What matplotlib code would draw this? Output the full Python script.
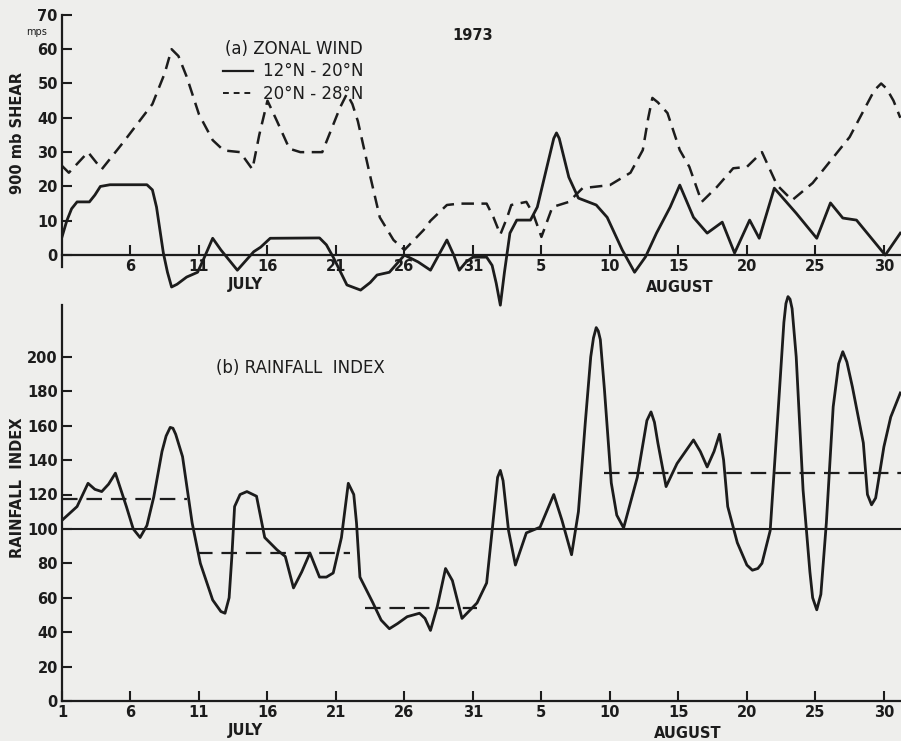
import matplotlib.pyplot as plt
from matplotlib.lines import Line2D

# (a) zonal wind shear, mps, against day number (Aug 5 = day 36)
shear_days_north = [1, 1.5, 2.9, 3.9, 5.5, 7.6, 8.5, 9.0, 9.5, 10.1, 11, 12, 12.8, 14, 14.9, 15.4,
                    16, 16.7, 17.6, 18.4, 20, 20.6, 21.3, 21.8, 22.2, 22.6, 23.5, 24.2, 25.2, 26,
                    27.4, 27.9, 29.1, 30, 32, 32.5, 33, 33.5, 33.8, 34.9, 35.4, 36, 36.8, 38, 39,
                    41, 42.5, 43.4, 43.8, 44.1, 44.5, 45.2, 46.1, 46.8, 47.7, 48.8, 50, 51, 52.1,
                    53.2, 54.3, 55.8, 58.5, 60.3, 60.8, 61.2, 61.7, 62.2]
shear_north = [26, 24, 30, 25, 33, 44, 53, 60, 58, 52, 41, 33.5, 30.5, 30, 25, 35,
               45, 39, 31, 30, 30, 36, 43, 47, 44, 39, 23, 11, 4.4, 1.5,
               7.3, 10, 14.6, 15, 15, 11, 6, 11, 14.6, 15.5, 12, 5.3, 14, 15.5, 19.5,
               20.4, 24, 30.6, 40, 45.8, 44.5, 41.4, 30.6, 25.7, 15.5, 19.8, 25.3, 25.7, 30,
               20.4, 16, 21, 34.4, 48, 50, 48.5, 45, 40]

shear_days_south = [1, 1.35, 1.7, 2.1, 3.0, 3.4, 3.8, 4.5, 7.2, 7.6, 7.9, 8.4, 8.7, 9.0, 9.4, 10.1,
                    10.9, 11.4, 12.0, 12.6, 13.8, 15.0, 15.5, 16.2, 19.8, 20.3, 20.8, 21.8, 22.8,
                    23.5, 24.0, 24.9, 26.0, 27.0, 27.9, 28.5, 29.1, 29.6, 30.0, 30.5, 31.0, 32.0,
                    32.4, 32.7, 33.0, 33.3, 33.7, 34.2, 35.2, 35.7, 36.4, 36.9, 37.1, 37.3, 38.0,
                    38.7, 40.0, 40.8, 41.9, 42.8, 43.6, 44.4, 45.4, 46.1, 47.1, 48.1, 49.2, 50.1,
                    51.2, 51.9, 53.0, 54.6, 56.1, 57.1, 58.0, 59.0, 61.1, 62.2]
shear_south = [5.3, 10, 13.5, 15.5, 15.5, 17.5, 20, 20.5, 20.5, 19, 14, 0.6, -5, -9.3, -8.5, -6.4,
               -5, -0.6, 4.9, 1.5, -4.4, 1, 2.3, 4.9, 5, 3, -0.6, -8.7, -10.2,
               -8, -5.8, -5, 0, -2, -4.4, 0, 4.4, 0, -4.4, -2, -0.6, -0.6,
               -3, -8.2, -14.6, -5, 6.4, 10.2, 10.2, 14, 25.7, 34, 35.6, 34, 22.7,
               16.6, 14.6, 11, 1.5, -5, -0.5, 6.4, 14, 20.4, 11, 6.4, 9.6, 0.6,
               10.2, 4.9, 19.5, 12.2, 4.9, 15.2, 10.8, 10.2, 0, 6.4]

# (b) rainfall index
rain_days = [1, 2.1, 2.9, 3.4, 3.9, 4.4, 4.9, 5.7, 6.2, 6.7, 7.2, 7.7, 8.3, 8.6, 8.9, 9.1, 9.3,
             9.8, 10.5, 11.1, 12.0, 12.6, 12.9, 13.2, 13.4, 13.6, 14.0, 14.5, 15.2, 15.8, 16.7,
             17.3, 17.9, 18.5, 19.1, 19.8, 20.3, 20.8, 21.4, 21.9, 22.3, 22.5, 22.75, 23.7, 24.3,
             24.9, 25.5, 26.2, 27.1, 27.5, 27.9, 28.4, 29.0, 29.5, 30.2, 31.3, 32.0, 32.4, 32.8,
             33.0, 33.2, 33.6, 34.1, 34.9, 35.9, 36.9, 37.5, 38.2, 38.7, 39.2, 39.6, 39.8, 40.0,
             40.15, 40.3, 40.6, 41.1, 41.5, 42.0, 43.0, 43.7, 44.0, 44.25, 44.5, 45.1, 45.9, 47.1,
             47.6, 48.1, 48.6, 49.0, 49.3, 49.6, 50.3, 51.0, 51.4, 51.8, 52.1, 52.7, 53.3, 53.7,
             53.85, 54.0, 54.15, 54.3, 54.6, 55.1, 55.6, 55.8, 56.1, 56.4, 56.8, 57.3, 57.7, 58.0,
             58.3, 58.7, 59.5, 59.8, 60.1, 60.4, 61.0, 61.5, 62.2]
rain_index = [105, 113, 126.5, 123, 121.7, 126, 132.4, 113, 100, 95, 102, 118.6, 145, 154, 159, 158.5, 155,
              142, 103.5, 80, 58.7, 52, 51, 60, 84, 113, 120, 121.7, 119, 95, 87.8,
              84, 65.7, 75, 86, 72, 72, 74.4, 95, 126.5, 120, 103.5, 72, 57, 47,
              42, 45, 49, 51, 48, 41, 55, 77, 70, 48, 57, 68.6, 99, 130,
              134, 128, 99, 79, 97.7, 101, 120, 105, 85, 110, 161.6, 200, 211, 217,
              215, 210, 181, 126.7, 108, 100.6, 130, 163, 168, 162, 150, 124.6, 138, 151.7,
              145, 136, 145, 155, 140, 113, 92, 79, 76, 77, 80, 99, 171, 220,
              231, 235, 233.5, 228, 200, 122.7, 75, 60, 53, 62, 103.5, 171, 196, 203,
              197, 182.6, 150, 120, 114, 118, 147.7, 165, 179]

# period means (dashed)
mean_start = [1, 10.85, 23.1, 40.6]
mean_end = [10.1, 22.0, 31.3, 62.3]
mean_value = [117.5, 86, 54, 132.5]

tick_days = [1, 6, 11, 16, 21, 26, 31, 36, 41, 46, 51, 56, 61]
tick_labels = ['1', '6', '11', '16', '21', '26', '31', '5', '10', '15', '20', '25', '30']

ink = '#1c1c1c'
paper = '#eeeeec'

fig = plt.figure(figsize=(9.01, 7.41), dpi=100, facecolor=paper)
W, H = 901, 741

def px_axes(left, top, right, bottom):
    return fig.add_axes([left / W, 1 - bottom / H, (right - left) / W, (bottom - top) / H])

ax1 = px_axes(62, 8, 901, 310)
ax2 = px_axes(62, 288, 901, 701)

for ax in (ax1, ax2):
    ax.patch.set_alpha(0)
    ax.set_xlim(1, 62.25)
    for s in ('top', 'right'):
        ax.spines[s].set_visible(False)
    for s in ('left', 'bottom'):
        ax.spines[s].set_linewidth(1.6)
        ax.spines[s].set_color(ink)
    ax.tick_params(direction='in', length=7, width=1.5, color=ink, labelcolor=ink,
                   labelsize=10.5, pad=3)

# top panel
ax1.set_ylim(-16, 72)
ax1.spines['bottom'].set_position(('data', 0))
ax1.spines['left'].set_bounds(-3.5, 70)
ax1.set_yticks(range(0, 71, 10))
ax1.set_xticks(tick_days[1:])
ax1.set_xticklabels(tick_labels[1:], fontweight='bold')
ax1.set_yticklabels([str(v) for v in range(0, 71, 10)], fontweight='bold')
ax1.plot(shear_days_north, shear_north, color=ink, lw=1.8, ls=(0, (5, 3)),
         solid_joinstyle='round', dash_joinstyle='round')
ax1.plot(shear_days_south, shear_south, color=ink, lw=2.0,
         solid_joinstyle='round')

handles = [Line2D([], [], color=ink, lw=1.6),
           Line2D([], [], color=ink, lw=1.4, ls=(0, (3, 2.5)))]
leg = ax1.legend(handles, ['12°N - 20°N', '20°N - 28°N'], title='(a) ZONAL WIND',
                 loc='upper left', bbox_to_anchor=(215 / W, 1 - 32 / H),
                 bbox_transform=fig.transFigure, frameon=False, fontsize=12,
                 title_fontsize=12, handlelength=1.8, handletextpad=0.6,
                 labelspacing=0.25, borderpad=0)
for t in leg.get_texts():
    t.set_color(ink)
leg.get_title().set_color(ink)

fig.text(473 / W, 1 - 35 / H, '1973', ha='center', va='center', fontsize=10.5,
         fontweight='bold', color=ink)
fig.text(37 / W, 1 - 32 / H, 'mps', ha='center', va='center', fontsize=7, color=ink)
fig.text(18 / W, 1 - 133 / H, '900 mb SHEAR', rotation=90, ha='center', va='center',
         fontsize=10.5, fontweight='bold', color=ink)
fig.text(245 / W, 1 - 285 / H, 'JULY', ha='center', va='center', fontsize=10.5,
         fontweight='bold', color=ink)
fig.text(680 / W, 1 - 288 / H, 'AUGUST', ha='center', va='center', fontsize=10.5,
         fontweight='bold', color=ink)

# bottom panel
ax2.set_ylim(0, 240)
ax2.spines['left'].set_bounds(0, 230)
ax2.set_yticks(range(0, 201, 20))
ax2.set_yticklabels([str(v) for v in range(0, 201, 20)], fontweight='bold')
ax2.set_xticks(tick_days)
ax2.set_xticklabels(tick_labels, fontweight='bold')
ax2.axhline(100, color=ink, lw=1.5)
ax2.hlines(mean_value, mean_start, mean_end, colors=ink, lw=1.6, linestyles=(0, (7, 4)))
ax2.plot(rain_days, rain_index, color=ink, lw=2.0, solid_joinstyle='round')

fig.text(300 / W, 1 - 368 / H, '(b) RAINFALL  INDEX', ha='center', va='center',
         fontsize=12, color=ink)
fig.text(18 / W, 1 - 488 / H, 'RAINFALL  INDEX', rotation=90, ha='center', va='center',
         fontsize=10.5, fontweight='bold', color=ink)
fig.text(245 / W, 1 - 730 / H, 'JULY', ha='center', va='center', fontsize=10.5,
         fontweight='bold', color=ink)
fig.text(688 / W, 1 - 733 / H, 'AUGUST', ha='center', va='center', fontsize=10.5,
         fontweight='bold', color=ink)

fig.savefig('out.png', dpi=100, facecolor=paper)
